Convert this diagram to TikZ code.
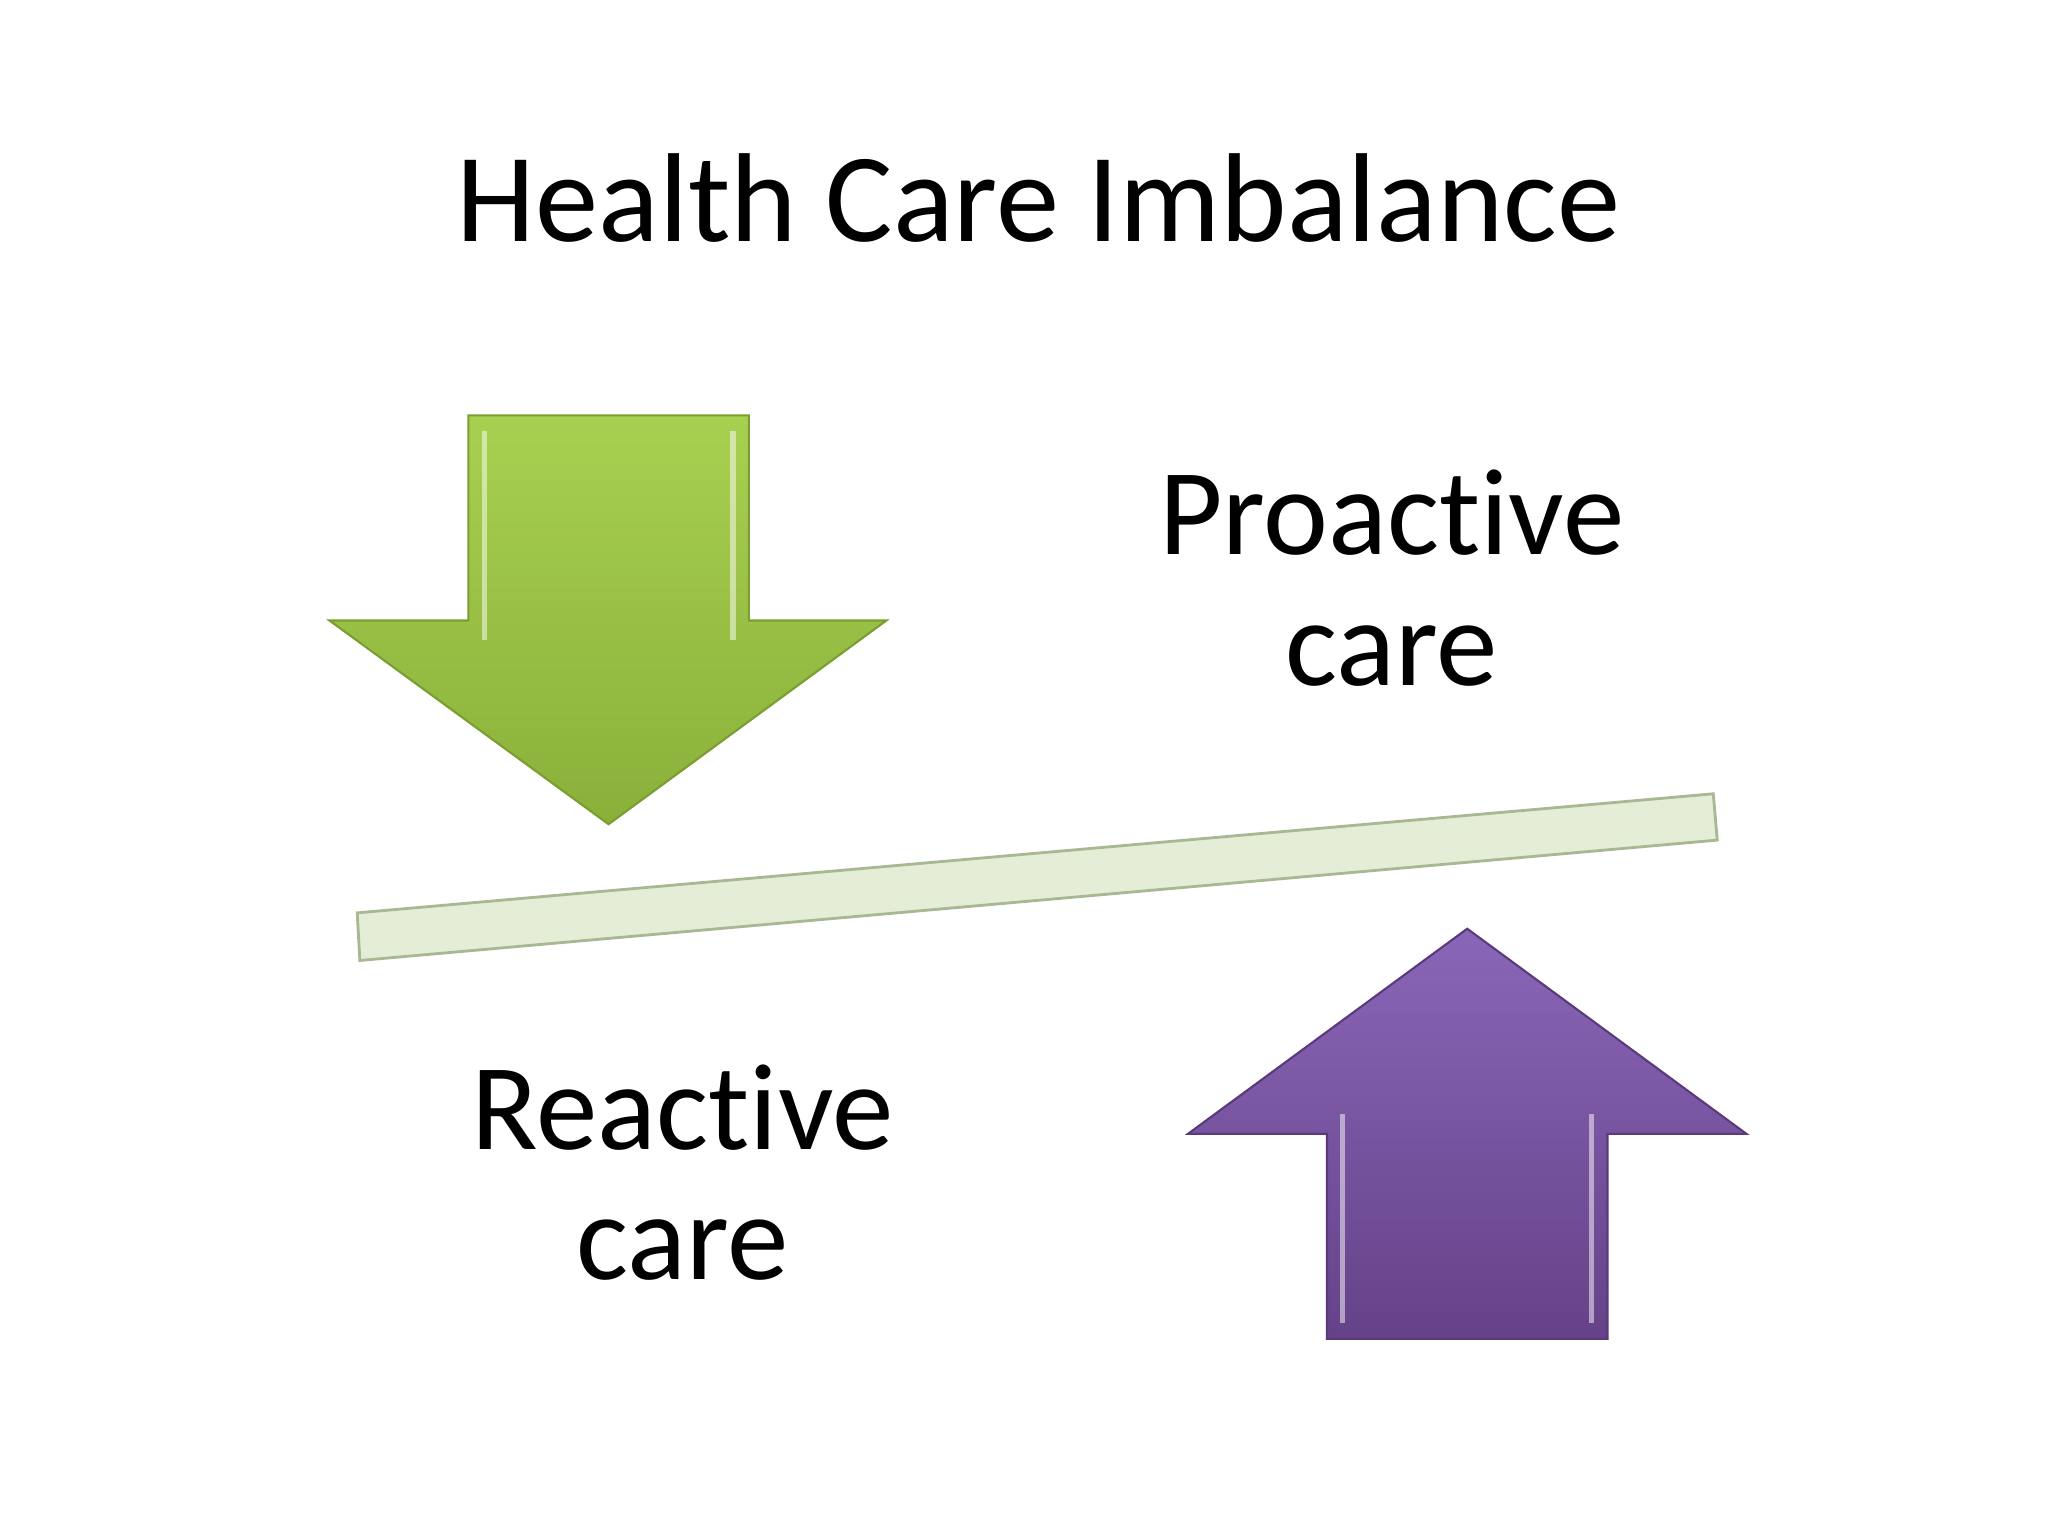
\documentclass[tikz,border=0pt]{standalone}
\usepackage{fontspec}
\setmainfont{Carlito}[Ligatures={NoCommon,NoRare,NoDiscretionary},Contextuals=NoAlternate]
\definecolor{gtop}{HTML}{A8D050}
\definecolor{gbot}{HTML}{8AB03A}
\definecolor{gedge}{HTML}{7A9E30}
\definecolor{ptop}{HTML}{8A66B8}
\definecolor{pbot}{HTML}{654288}
\definecolor{pedge}{HTML}{5A3A7A}
\definecolor{barfill}{HTML}{E4EED6}
\definecolor{baredge}{HTML}{A8B894}
\begin{document}
\begin{tikzpicture}[x=0.01323cm,y=-0.01323cm,
  lbl/.style={font=\fontsize{35}{37}\selectfont,align=center,text=black,inner sep=0pt}]
\useasboundingbox[fill=white] (0,0) rectangle (1548,1161);
\node[lbl,font=\fontsize{36}{38}\selectfont] (title) at (785,150) {Health Care Imbalance};
% green down arrow
\shade[top color=gtop,bottom color=gbot,draw=gedge,line width=0.6pt]
  (354,314) -- (566,314) -- (566,469) -- (670,469) -- (460,623) -- (249,469) -- (354,469) -- cycle;
\draw[white,opacity=0.5,line width=1.5pt] (366,326) -- (366,484);
\draw[white,opacity=0.5,line width=1.5pt] (554,326) -- (554,484);
% bar
\draw[fill=barfill,draw=baredge,line width=0.8pt] (270,690) -- (1295,600) -- (1298,635) -- (272,726) -- cycle;
% purple up arrow
\shade[top color=ptop,bottom color=pbot,draw=pedge,line width=0.6pt]
  (1109,702) -- (1320,857) -- (1215,857) -- (1215,1012) -- (1003,1012) -- (1003,857) -- (898,857) -- cycle;
\draw[white,opacity=0.5,line width=1.5pt] (1015,842) -- (1015,1000);
\draw[white,opacity=0.5,line width=1.5pt] (1203,842) -- (1203,1000);
\node[lbl] (pro) at (1052,437) {Proactive\\care};
\node[lbl] (rea) at (516,886) {Reactive\\care};
\end{tikzpicture}
\end{document}
